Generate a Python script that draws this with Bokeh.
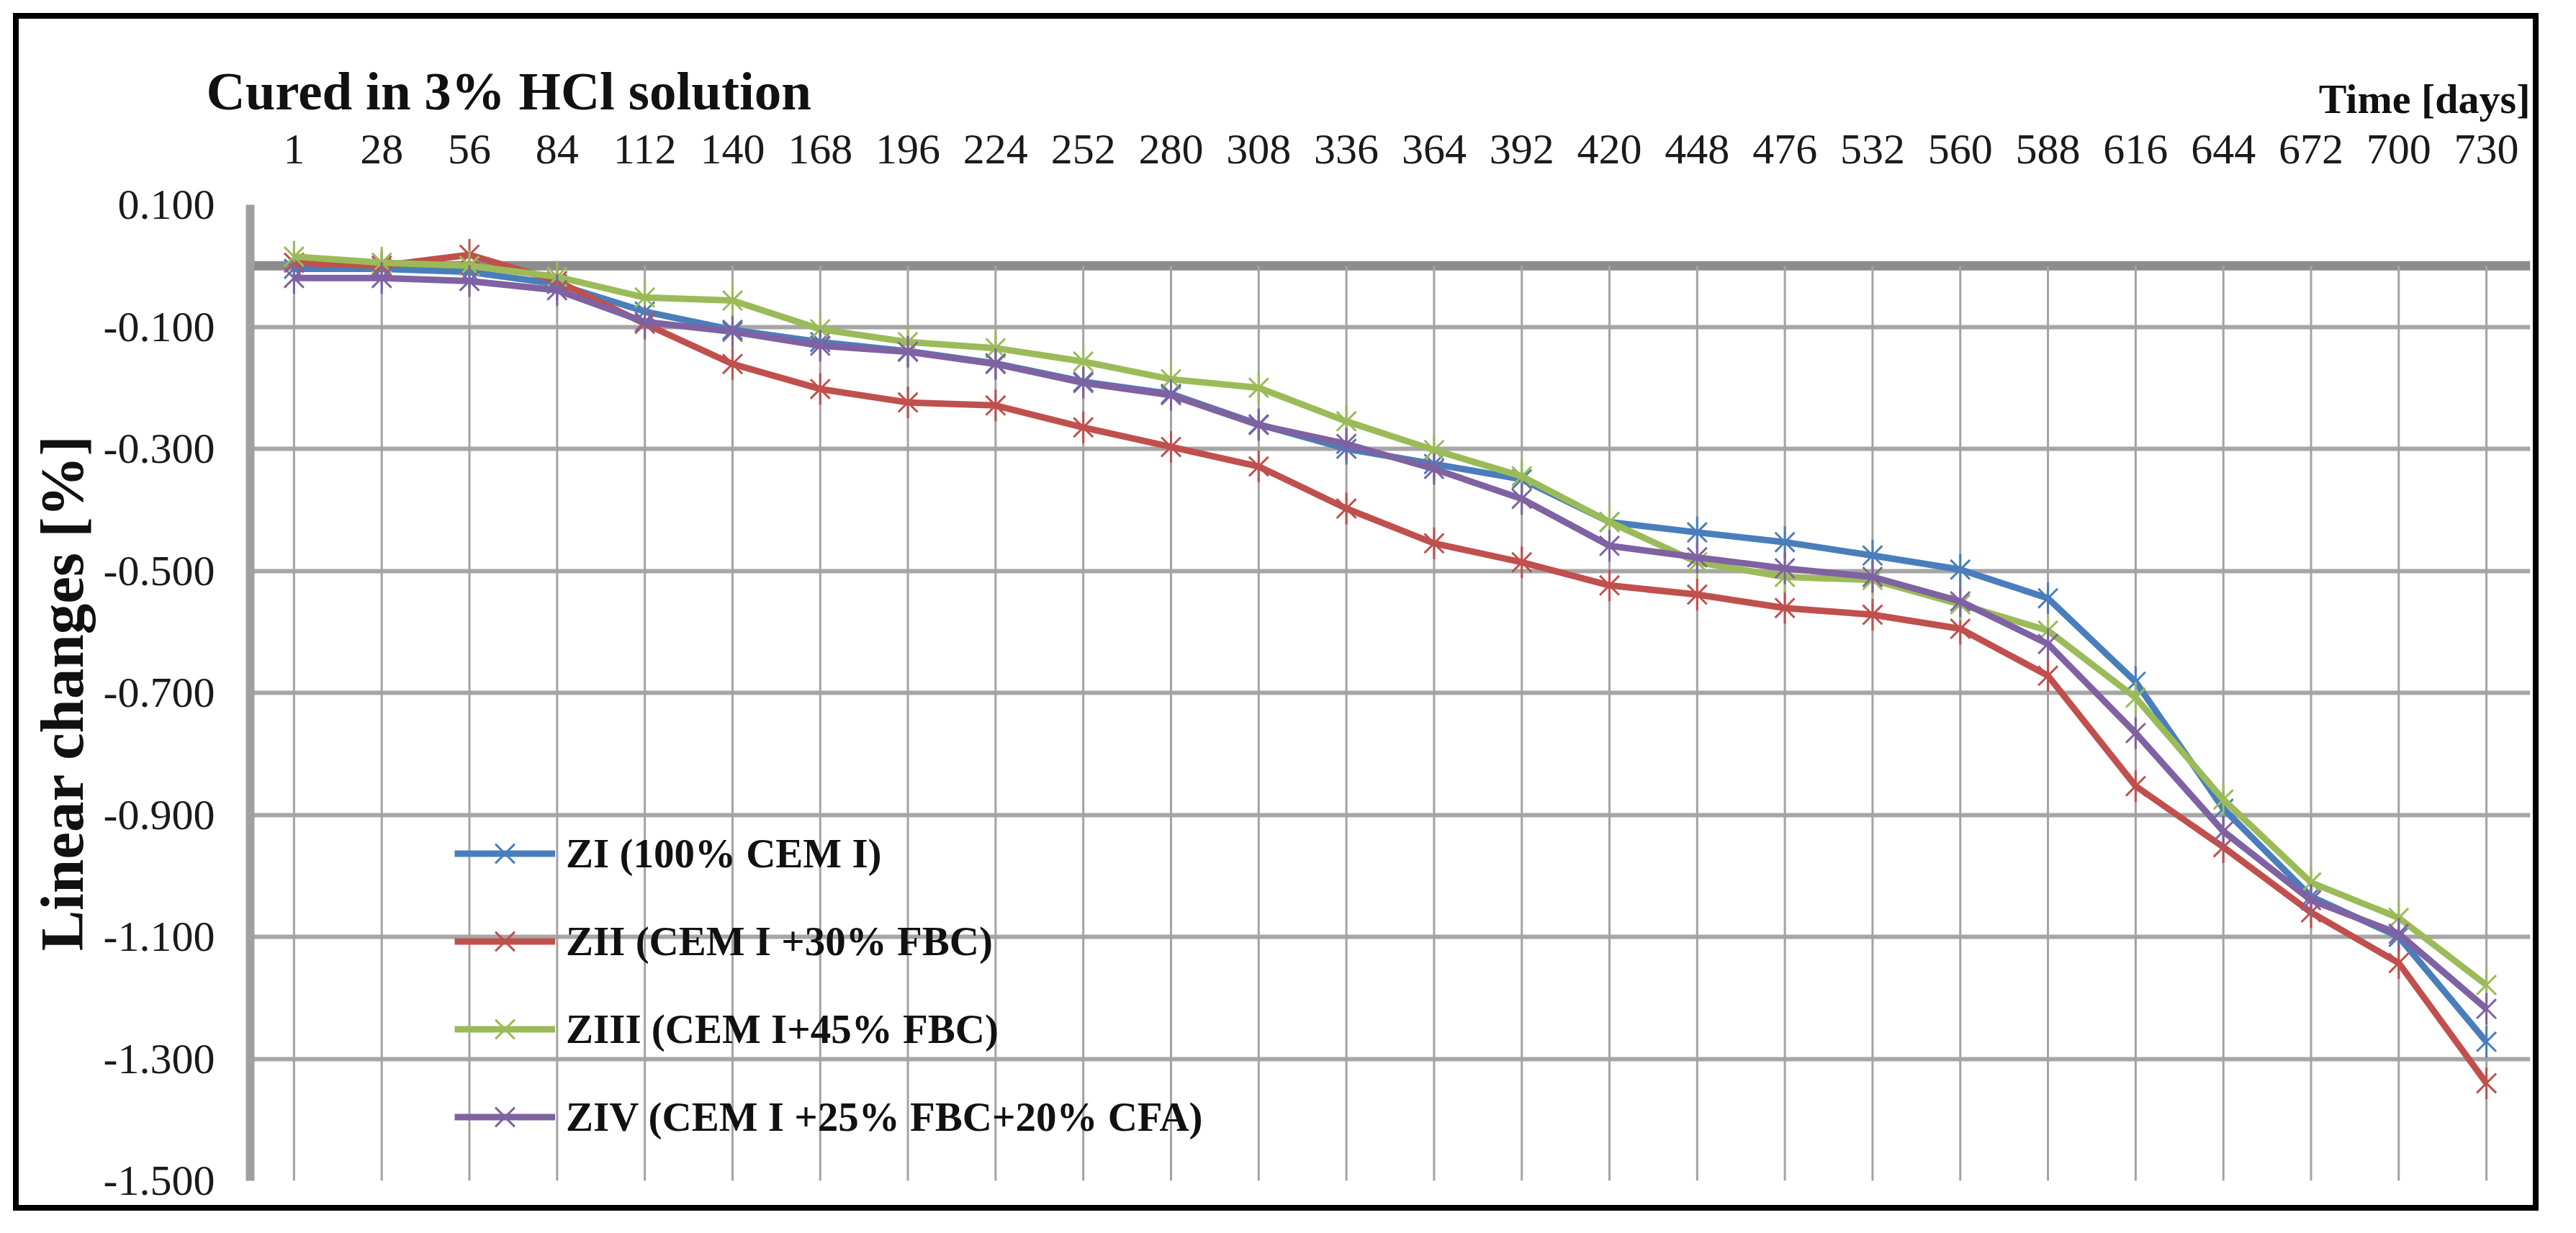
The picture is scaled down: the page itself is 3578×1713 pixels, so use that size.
from bokeh.plotting import figure
from bokeh.models import (FactorRange, Range1d, FixedTicker, NumeralTickFormatter,
                          Span, Legend, LegendItem, ColumnDataSource, Title)
from bokeh.embed import file_html
from bokeh.resources import INLINE
import math

days = ["1", "28", "56", "84", "112", "140", "168", "196", "224", "252", "280", "308", "336",
        "364", "392", "420", "448", "476", "532", "560", "588", "616", "644", "672", "700", "730"]

zi = [-0.005, -0.005, -0.010, -0.030, -0.075, -0.105, -0.125, -0.140, -0.160, -0.190, -0.210,
      -0.260, -0.300, -0.325, -0.350, -0.420, -0.437, -0.453, -0.475, -0.498, -0.545, -0.682,
      -0.890, -1.034, -1.100, -1.272]
zii = [0.005, 0.000, 0.018, -0.025, -0.095, -0.161, -0.202, -0.224, -0.229, -0.265, -0.297,
       -0.329, -0.398, -0.455, -0.486, -0.524, -0.539, -0.561, -0.572, -0.595, -0.672, -0.853,
       -0.953, -1.060, -1.143, -1.340]
ziii = [0.015, 0.005, 0.000, -0.018, -0.052, -0.057, -0.104, -0.125, -0.135, -0.157, -0.186,
        -0.200, -0.255, -0.302, -0.345, -0.420, -0.486, -0.510, -0.515, -0.555, -0.598, -0.708,
        -0.875, -1.011, -1.069, -1.179]
ziv = [-0.020, -0.020, -0.025, -0.040, -0.092, -0.108, -0.131, -0.141, -0.161, -0.192, -0.212,
       -0.261, -0.292, -0.333, -0.382, -0.459, -0.478, -0.496, -0.510, -0.550, -0.620, -0.766,
       -0.927, -1.040, -1.095, -1.218]

series_names = ["ZI (100% CEM I)", "ZII (CEM I +30% FBC)", "ZIII (CEM I+45% FBC)",
                "ZIV (CEM I +25% FBC+20% CFA)"]
series_values = [zi, zii, ziii, ziv]
series_colors = ["#4A7EBB", "#C0504D", "#9BBB59", "#7F62A2"]

y_ticks = [0.1, -0.1, -0.3, -0.5, -0.7, -0.9, -1.1, -1.3, -1.5]

SERIF = "Liberation Serif"

p = figure(width=3508, height=1664, title=None,
           x_range=FactorRange(factors=days), y_range=Range1d(-1.5, 0.1),
           x_axis_location="above", output_backend="svg", toolbar_location=None,
           min_border_left=321, min_border_right=20, min_border_top=258, min_border_bottom=50)
p.styles = {"border": "8px solid black"}
p.margin = (18, 0, 0, 18)
p.outline_line_color = None
p.background_fill_color = "white"
p.border_fill_color = "white"

# "Time [days]" (right) sits just above the day labels; the main title (left) shares its line
t_time = Title(text="Time [days]", align="right", standoff=30, offset=0,
               text_font=SERIF, text_font_style="bold", text_font_size="58px",
               text_color="#111111")
p.add_layout(t_time, "above")
t_main = Title(text="Cured in 3% HCl solution", align="left", standoff=-160, offset=-61,
               text_font=SERIF, text_font_style="bold", text_font_size="75px",
               text_color="#111111")
p.add_layout(t_main, "above")

# grid
p.xgrid.grid_line_color = None
p.ygrid.ticker = FixedTicker(ticks=y_ticks)
p.ygrid.grid_line_color = "#A6A6A6"
p.ygrid.grid_line_width = 6

# vertical grid lines below the zero line
p.segment(x0=days, y0=[0] * len(days), x1=days, y1=[-1.5] * len(days),
          line_color="#A3A3A3", line_width=3)

zero = Span(location=0, dimension="width", line_color="#8C8C8C", line_width=13, level="underlay")
p.add_layout(zero)

# axes
xa = p.xaxis[0]
xa.axis_line_color = None
xa.major_tick_line_color = None
xa.minor_tick_line_color = None
xa.major_label_text_font = SERIF
xa.major_label_text_font_size = "60px"
xa.major_label_text_color = "#1A1A1A"
xa.major_label_standoff = 52

ya = p.yaxis[0]
ya.ticker = FixedTicker(ticks=y_ticks)
ya.formatter = NumeralTickFormatter(format="0.000")
ya.axis_line_color = "#A0A0A0"
ya.axis_line_width = 12
ya.major_tick_line_color = None
ya.minor_tick_line_color = None
ya.major_label_text_font = SERIF
ya.major_label_text_font_size = "60px"
ya.major_label_text_color = "#1A1A1A"
ya.major_label_standoff = 43
ya.axis_label = "Linear changes [%]"
ya.axis_label_text_font = SERIF
ya.axis_label_text_font_style = "bold"
ya.axis_label_text_font_size = "85px"
ya.axis_label_text_color = "#111111"
ya.axis_label_standoff = 8

items = []
for name, vals, col in zip(series_names, series_values, series_colors):
    src = ColumnDataSource(dict(x=days, y=vals))
    r1 = p.line("x", "y", source=src, line_color=col, line_width=9)
    r2 = p.scatter("x", "y", source=src, marker="x", size=38, line_color=col, line_width=3)
    r3 = p.scatter("x", "y", source=src, marker="dash", angle=math.pi / 2, size=44,
                   line_color=col, line_width=3)
    items.append(LegendItem(label=name, renderers=[r1, r2, r3]))

legend = Legend(items=items, location=(284, 41), orientation="vertical",
                glyph_width=140, glyph_height=95, label_height=60, spacing=27,
                label_standoff=15, padding=0, margin=0,
                label_text_font=SERIF, label_text_font_style="bold",
                label_text_font_size="57px", label_text_color="#111111",
                background_fill_alpha=0, border_line_color=None)
p.add_layout(legend, "center")

open("out.html", "w").write(file_html(p, INLINE))
